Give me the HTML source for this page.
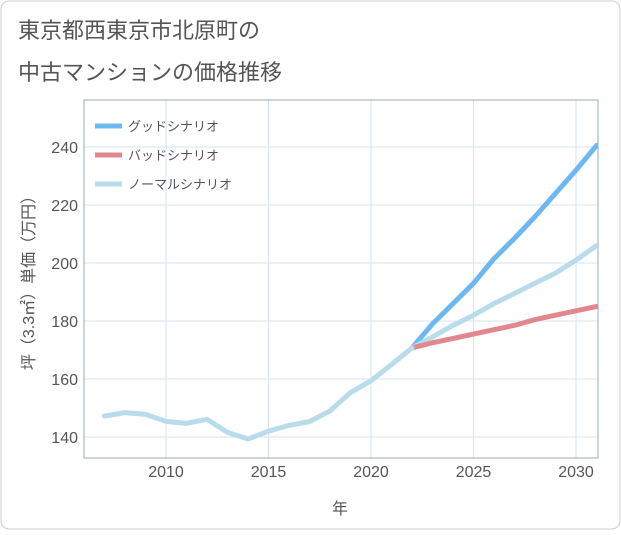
<!DOCTYPE html>
<html><head><meta charset="utf-8"><style>
body{margin:0;background:#fff;font-family:"Liberation Sans","Noto Sans CJK JP",sans-serif;}
#wrap{position:relative;width:621px;height:530px;}
</style></head><body>
<div id="wrap">
<svg id="chart" width="621" height="530" font-family="Liberation Sans, Noto Sans CJK JP, sans-serif">
<rect x="1" y="1" width="619" height="528" rx="8" fill="#fff" stroke="#ccc"/>
<text x="18" y="38" font-size="22" fill="#555">東京都西東京市北原町の</text>
<text x="18" y="80" font-size="22" fill="#555">中古マンションの価格推移</text>
<g id="grid"></g>
<g id="series"></g>
<g id="legend"></g>
<text x="340" y="514" font-size="16" fill="#555" text-anchor="middle">年</text>
<text transform="translate(34,279) rotate(-90)" font-size="16" fill="#555" text-anchor="middle">坪（3.3㎡）単価（万円）</text>
</svg>
</div>
<script>
const years=[2007,2008,2009,2010,2011,2012,2013,2014,2015,2016,2017,2018,2019,2020,2021,2022,2023,2024,2025,2026,2027,2028,2029,2030,2031];
const histValues=[147.2,148.4,147.8,145.4,144.7,146.1,141.6,139.3,142,144,145.3,149,155.3,159.4,165,170.7];
const goodValues=[170.7,179,186,193,201.5,208.5,216,224,232,240.5];
const badValues=[170.7,172.5,174,175.5,177,178.5,180.5,182,183.5,185];
const normalValues=[170.7,174.5,178.5,182,186,189.5,193,196.5,201,206];
const xTicks=[2010,2015,2020,2025,2030];
const yTicks=[140,160,180,200,220,240];
const legendLabels=["グッドシナリオ","バッドシナリオ","ノーマルシナリオ"];
const colors=["#6cb8f2","#e0888e","#b9dceb"];
const L=84,R=598,T=100,B=458;
const xs=y=>166+(y-2010)*20.5;
const ys=v=>437-(v-140)*2.9;
const NS="http://www.w3.org/2000/svg";
function mk(tag,attrs,parent){const e=document.createElementNS(NS,tag);for(const k in attrs)e.setAttribute(k,attrs[k]);parent.appendChild(e);return e;}
const grid=document.getElementById('grid');
for(const t of xTicks){
 const l=mk('line',{x1:xs(t),x2:xs(t),y1:T,y2:B,stroke:'#d5e5ef'},grid);
 
 
 const tx=mk('text',{x:xs(t),y:477,'font-size':16,fill:'#555','text-anchor':'middle'},grid);tx.textContent=t;
 
 
}
for(const t of yTicks){
 const l=mk('line',{x1:L,x2:R,y1:ys(t),y2:ys(t),stroke:'#d5e5ef'},grid);
 
 
 const tx=mk('text',{x:78,y:ys(t)+6,'font-size':16,fill:'#555','text-anchor':'end'},grid);tx.textContent=t;
 
 
}
const frame=mk('rect',{x:L,y:T,width:R-L,height:B-T,fill:'none',stroke:'#9ab'},grid);


const ser=document.getElementById('series');
const clip=mk('clipPath',{id:'pc'},ser);mk('rect',{x:L,y:T,width:R-L,height:B-T},clip);
function line(vals,startIdx,color,name){
 const pts=vals.map((v,i)=>xs(years[startIdx+i])+','+ys(v)).join(' ');
 const p=mk('polyline',{points:pts,fill:'none',stroke:color,'stroke-width':5,'stroke-linejoin':'round','stroke-linecap':'round','clip-path':'url(#pc)'},ser);
 
 
}
line(goodValues,15,colors[0],'good-scenario-line');
line(normalValues,15,colors[2],'normal-scenario-line');
line(badValues,15,colors[1],'bad-scenario-line');
line(histValues,0,colors[2],'historical-line');
const lg=document.getElementById('legend');
legendLabels.forEach((lab,i)=>{
 const y=126+i*29;
 const l=mk('line',{x1:95,x2:122,y1:y,y2:y,stroke:colors[i],'stroke-width':5},lg);
 
 
 const t=mk('text',{x:128,y:y+5,'font-size':13,fill:'#555'},lg);t.textContent=lab;
 
 
});
</script>
</body></html>
